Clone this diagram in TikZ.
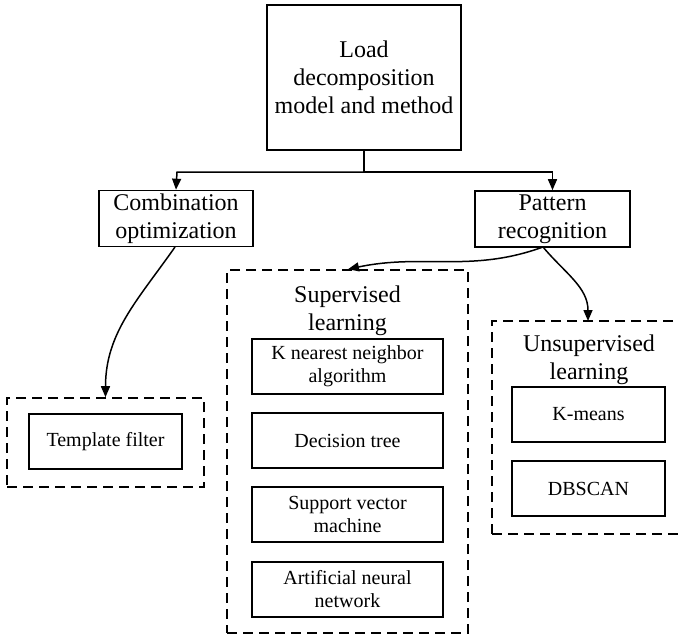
\documentclass[tikz,border=0pt]{standalone}
\usepackage{fontspec}
\setmainfont{Liberation Serif}
\usetikzlibrary{arrows.meta}
\tikzset{
  box/.style={draw, line width=1.6pt, align=center, inner sep=0pt},
  bigtxt/.style={font=\fontsize{24}{28}\selectfont},
  smalltxt/.style={font=\fontsize{20}{23}\selectfont},
  group/.style={draw, line width=1.6pt, dash pattern=on 10pt off 6pt, inner sep=0pt},
  link/.style={line width=1.5pt, -{Triangle[length=11pt,width=9pt]}},
}
\begin{document}
\begin{tikzpicture}[x=1pt,y=-1pt]
\useasboundingbox (0,0) rectangle (678,635);
\clip (0,0) rectangle (678,635);

% root
\node[box, bigtxt, minimum width=194pt, minimum height=145pt] (root) at (364,77.5)
  {Load\\decomposition\\model and method};

% two families of methods
\node[box, bigtxt, minimum width=154pt, minimum height=56pt] (comb) at (176,218.5)
  {Combination\\optimization};
\node[box, bigtxt, minimum width=155pt, minimum height=56pt] (pat) at (552.5,219)
  {Pattern\\recognition};

\coordinate (split) at (364,172);
\coordinate (splitL) at (177,172);
\coordinate (splitR) at (552.5,172);
\draw[line width=1.5pt] (root.south) -- (split);
\draw[link] (split) -- (splitL) -- (comb.north);
\draw[link] (split) -- (splitR) -- (pat.north);

% template filter group
\node[group, minimum width=197pt, minimum height=89pt] (tgrp) at (105.5,442.5) {};
\node[box, smalltxt, minimum width=153pt, minimum height=55pt] (tmpl) at (105.5,441.5)
  {Template filter};

% supervised learning group
\node[group, minimum width=241pt, minimum height=363pt] (sgrp) at (347.5,451.5) {};
\node[bigtxt, align=center, inner sep=0pt] (slab) at (347.5,311) {Supervised\\learning};
\node[box, smalltxt, minimum width=191pt, minimum height=55pt] (knn) at (347.5,366.5)
  {K nearest neighbor\\algorithm};
\node[box, smalltxt, minimum width=191pt, minimum height=55pt] (dt) at (347.5,440.5)
  {Decision tree};
\node[box, smalltxt, minimum width=191pt, minimum height=55pt] (svm) at (347.5,514.5)
  {Support vector\\machine};
\node[box, smalltxt, minimum width=191pt, minimum height=55pt] (ann) at (347.5,589.5)
  {Artificial neural\\network};

% unsupervised learning group
\node[group, minimum width=200pt, minimum height=213pt] (ugrp) at (592,427.5) {};
\node[bigtxt, align=center, inner sep=0pt] (ulab) at (589,360) {Unsupervised\\learning};
\node[box, smalltxt, minimum width=153pt, minimum height=55pt] (km) at (588.5,414.5)
  {K-means};
\node[box, smalltxt, minimum width=153pt, minimum height=55pt] (db) at (588.5,488.5)
  {DBSCAN};

% curved links
\coordinate (combout) at (175,247);
\coordinate (patout) at (543,247);
\draw[link] (combout) to[out=-125,in=90] (tgrp.north);
\draw[link] (patout) to[out=-160,in=12] ([xshift=0.5pt]sgrp.north);
\draw[link] (patout) to[out=-50,in=90] (588,321);
\end{tikzpicture}
\end{document}
